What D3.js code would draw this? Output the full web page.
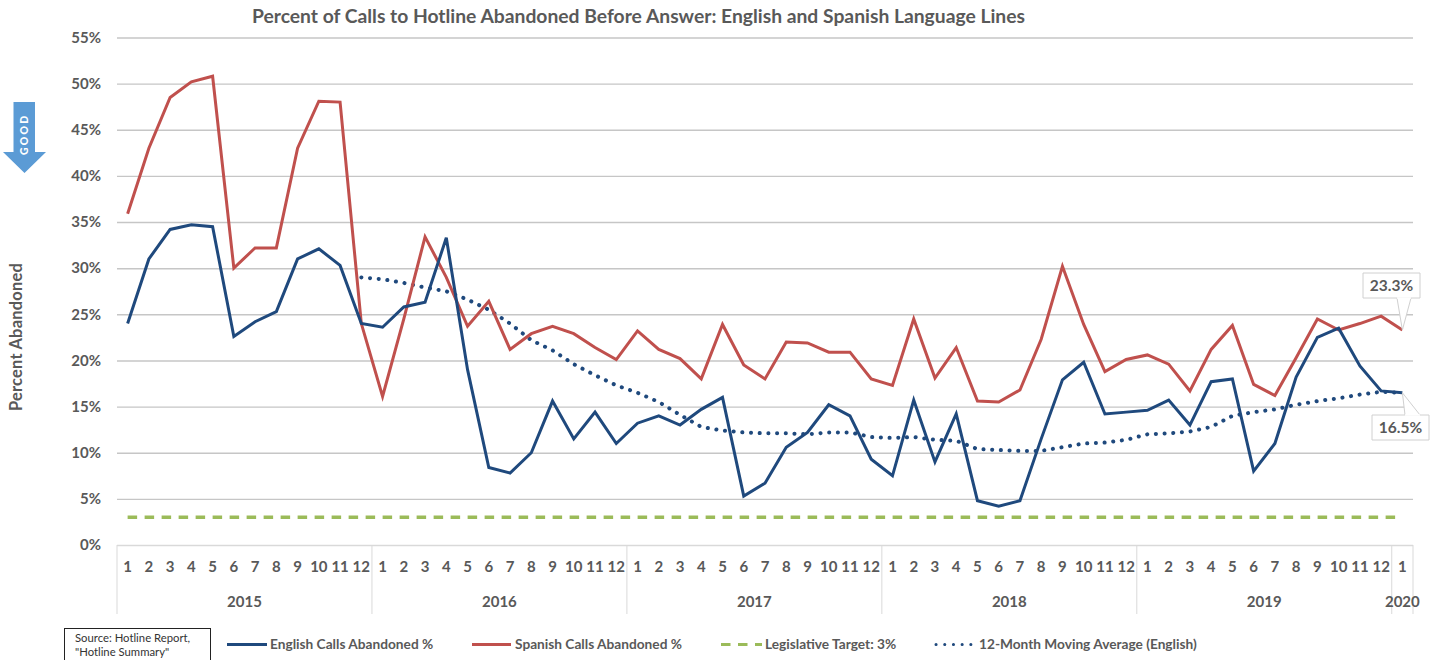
<!DOCTYPE html>
<html lang="en">
<head>
<meta charset="utf-8">
<title>Hotline Abandoned Calls</title>
<script src="https://d3js.org/d3.v7.min.js"></script>
<style>
  html, body { margin: 0; padding: 0; background: #fff; }
  svg { display: block; }
  text { font-family: Lato, "Open Sans", sans-serif; fill: #595959; }
</style>
</head>
<body>
<script>
// values
var years = ["2015", "2016", "2017", "2018", "2019", "2020"];
var monthsPerYear = [12, 12, 12, 12, 12, 1];
var yTicks = [0, 5, 10, 15, 20, 25, 30, 35, 40, 45, 50, 55];

var english = [
  24, 31, 34.2, 34.7, 34.5, 22.6, 24.2, 25.3, 31, 32.1, 30.3, 24,
  23.6, 25.8, 26.3, 33.3, 19, 8.4, 7.8, 10, 15.6, 11.5, 14.4, 11,
  13.2, 14, 13, 14.7, 16, 5.3, 6.7, 10.6, 12.2, 15.2, 14, 9.3,
  7.5, 15.7, 9, 14.2, 4.8, 4.2, 4.8, 11.5, 17.9, 19.8, 14.2, 14.4,
  14.6, 15.7, 13, 17.7, 18, 8, 11, 18.2, 22.5, 23.5, 19.4, 16.7,
  16.5
];
var spanish = [
  35.9, 43, 48.5, 50.2, 50.8, 30, 32.2, 32.2, 43, 48.1, 48, 24,
  16.1, 24.5, 33.4, 29, 23.7, 26.4, 21.2, 22.9, 23.7, 22.9, 21.4, 20.1,
  23.2, 21.2, 20.2, 18, 23.9, 19.5, 18, 22, 21.9, 20.9, 20.9, 18,
  17.3, 24.5, 18.1, 21.4, 15.6, 15.5, 16.8, 22.3, 30.2, 23.9, 18.8, 20.1,
  20.6, 19.6, 16.7, 21.2, 23.8, 17.4, 16.2, 20.3, 24.5, 23.3, 24, 24.8,
  23.3
];
var movingAvg = [
  null, null, null, null, null, null, null, null, null, null, null, 29,
  28.8, 28.4, 27.9, 27.5, 26.6, 25.5, 24, 22.2, 21.1, 19.6, 18.4, 17.3,
  16.5, 15.5, 14.1, 12.8, 12.4, 12.2, 12.1, 12.1, 12, 12.2, 12.2, 11.7,
  11.6, 11.7, 11.4, 11.3, 10.4, 10.3, 10.2, 10.2, 10.6, 11, 11.1, 11.4,
  12, 12.1, 12.3, 12.8, 14, 14.4, 14.7, 15.2, 15.6, 15.9, 16.3, 16.6,
  16.5
];
var target = english.map(function() { return 3; });

var legendItems = [
  {label: "English Calls Abandoned %", color: "#1F497D", x: 227, end: 267, dash: null, text: 270},
  {label: "Spanish Calls Abandoned %", color: "#C0504D", x: 472, end: 511, dash: null, text: 515},
  {label: "Legislative Target: 3%", color: "#9BBB59", x: 721, end: 762, dash: "9.5 7.5", text: 765},
  {label: "12-Month Moving Average (English)", color: "#1F497D", x: 936, end: 977, dash: "0.1 8.6", text: 979}
];

var width = 1440, height = 660;
var left = 117, right = 1413, top_ = 37.5, bottom = 545;

var svg = d3.select("body").append("svg")
  .attr("width", width)
  .attr("height", height);

// one slot per month, in order
var slots = d3.range(english.length);
var x = d3.scaleBand().domain(slots).range([left, right]);
var y = d3.scaleLinear().domain([0, 55]).range([bottom, top_]);
var cx = function(i) { return x(i) + x.bandwidth() / 2; };

// title
svg.append("text")
  .attr("x", 638.5).attr("y", 23)
  .attr("text-anchor", "middle")
  .style("font-size", "19.3px").style("font-weight", 700)
  .text("Percent of Calls to Hotline Abandoned Before Answer: English and Spanish Language Lines");

// y axis + gridlines
var yAxis = d3.axisLeft(y)
  .tickValues(yTicks)
  .tickSize(-(right - left))
  .tickPadding(16)
  .tickFormat(function(d) { return d + "%"; });

var gy = svg.append("g").attr("transform", "translate(" + left + ",0)").call(yAxis);
gy.select(".domain").remove();
gy.selectAll(".tick line").attr("stroke", function(d) { return d == 0 ? "#d9d9d9" : "#c6c6c6"; }).attr("stroke-width", 1.4);
gy.selectAll(".tick text")
  .style("font-size", "15px").style("font-weight", 700)
  .style("font-family", "Lato").attr("fill", "#595959");

svg.append("text")
  .attr("transform", "translate(22,337) rotate(-90)")
  .attr("text-anchor", "middle")
  .style("font-size", "16.5px").style("font-weight", 700)
  .style("letter-spacing", "0.2px")
  .text("Percent Abandoned");

// multi level x axis: month numbers + year group
var monthLabels = [];
var yearGroups = [];
var pos = 0;
years.forEach(function(yr, k) {
  yearGroups.push({year: yr, start: pos, end: pos + monthsPerYear[k]});
  d3.range(monthsPerYear[k]).forEach(function(m) { monthLabels.push(m + 1); });
  pos += monthsPerYear[k];
});

var xAxis = d3.axisBottom(x)
  .tickSize(0)
  .tickPadding(16)
  .tickFormat(function(i) { return monthLabels[i]; });

var gx = svg.append("g").attr("transform", "translate(0," + bottom + ")").call(xAxis);
gx.select(".domain").remove();
gx.selectAll(".tick text")
  .style("font-size", "15px").style("font-weight", 700)
  .style("font-family", "Lato").attr("fill", "#595959");

var dividers = yearGroups.map(function(g) { return g.start; }).concat([slots.length]);
svg.selectAll(".yearDivider")
  .data(dividers)
  .enter().append("line")
  .attr("class", "yearDivider")
  .attr("x1", function(d) { return d < slots.length ? x(d) : right; })
  .attr("x2", function(d) { return d < slots.length ? x(d) : right; })
  .attr("y1", bottom).attr("y2", 614)
  .attr("stroke", "#d9d9d9").attr("stroke-width", 1);

svg.selectAll(".yearLabel")
  .data(yearGroups)
  .enter().append("text")
  .attr("class", "yearLabel")
  .attr("x", function(g) { return (x(g.start) + (g.end < slots.length ? x(g.end) : right)) / 2; })
  .attr("y", 607)
  .attr("text-anchor", "middle")
  .style("font-size", "15px").style("font-weight", 700)
  .text(function(g) { return g.year; });

// lines
var line = d3.line()
  .defined(function(d) { return d != null; })
  .x(function(d, i) { return cx(i); })
  .y(function(d) { return y(d); });

svg.append("path").datum(target)
  .attr("d", line).attr("fill", "none")
  .attr("stroke", "#9BBB59").attr("stroke-width", 3.4)
  .attr("stroke-dasharray", "9.5 7.5");

svg.append("path").datum(movingAvg)
  .attr("d", line).attr("fill", "none")
  .attr("stroke", "#1F497D").attr("stroke-width", 4)
  .attr("stroke-linecap", "round")
  .attr("stroke-dasharray", "0.1 8.6");

svg.append("path").datum(spanish)
  .attr("d", line).attr("fill", "none")
  .attr("stroke", "#C0504D").attr("stroke-width", 3);

svg.append("path").datum(english)
  .attr("d", line).attr("fill", "none")
  .attr("stroke", "#1F497D").attr("stroke-width", 3);

// callouts on the last point
var last = slots.length - 1;
function callout(value, bx, by, bw, bh, baseA, baseB, edgeY) {
  var px = cx(last), py = y(value);
  svg.append("path")
    .attr("d", "M" + bx + "," + by + "H" + (bx + bw) + "V" + (by + bh) + "H" + (bx) + "Z")
    .attr("fill", "#fff").attr("stroke", "#d0d0d0").attr("stroke-width", 1);
  svg.append("path")
    .attr("d", "M" + baseA + "," + edgeY + "L" + px + "," + py + "L" + baseB + "," + edgeY)
    .attr("fill", "#fff").attr("stroke", "#d0d0d0").attr("stroke-width", 1);
  svg.append("line")
    .attr("x1", baseA).attr("x2", baseB).attr("y1", edgeY).attr("y2", edgeY)
    .attr("stroke", "#fff").attr("stroke-width", 1.5);
  svg.append("text")
    .attr("x", bx + bw / 2).attr("y", by + bh / 2 + 5.5)
    .attr("text-anchor", "middle")
    .style("font-size", "15.5px").style("font-weight", 700)
    .text(value.toFixed(1) + "%");
}
callout(spanish[last], 1363, 273, 57, 25, 1397, 1411, 298);
callout(english[last], 1372, 415, 57, 25, 1405, 1420, 415);

// GOOD arrow
svg.append("path")
  .attr("d", "M13.5,102H35V152H46L24.5,173L3,152H13.5Z")
  .attr("fill", "#5B9BD5");
svg.append("text")
  .attr("transform", "translate(28,155) rotate(-90)")
  .style("font-size", "10.5px").style("font-weight", 900)
  .style("letter-spacing", "2.2px")
  .style("fill", "#fff")
  .text("GOOD");

// source box
svg.append("rect")
  .attr("x", 64.5).attr("y", 628.5).attr("width", 146).attr("height", 40)
  .attr("fill", "#fff").attr("stroke", "#222").attr("stroke-width", 1);
svg.append("text").attr("x", 75).attr("y", 642)
  .style("font-size", "11.3px").style("fill", "#333").text("Source: Hotline Report,");
svg.append("text").attr("x", 75).attr("y", 656)
  .style("font-size", "11.3px").style("fill", "#333").text("\"Hotline Summary\"");

// legend
var lg = svg.selectAll(".legendItem")
  .data(legendItems)
  .enter().append("g")
  .attr("class", "legendItem");
lg.append("line")
  .attr("x1", function(d) { return d.x; })
  .attr("x2", function(d) { return d.end; })
  .attr("y1", 644.5).attr("y2", 644.5)
  .attr("stroke", function(d) { return d.color; })
  .attr("stroke-width", 3)
  .attr("stroke-linecap", function(d) { return d.dash == "0.1 8.6" ? "round" : "butt"; })
  .attr("stroke-dasharray", function(d) { return d.dash; });
lg.append("text")
  .attr("x", function(d) { return d.text; })
  .attr("y", 649)
  .style("font-size", "13.7px").style("font-weight", 700)
  .text(function(d) { return d.label; });
</script>
</body>
</html>
